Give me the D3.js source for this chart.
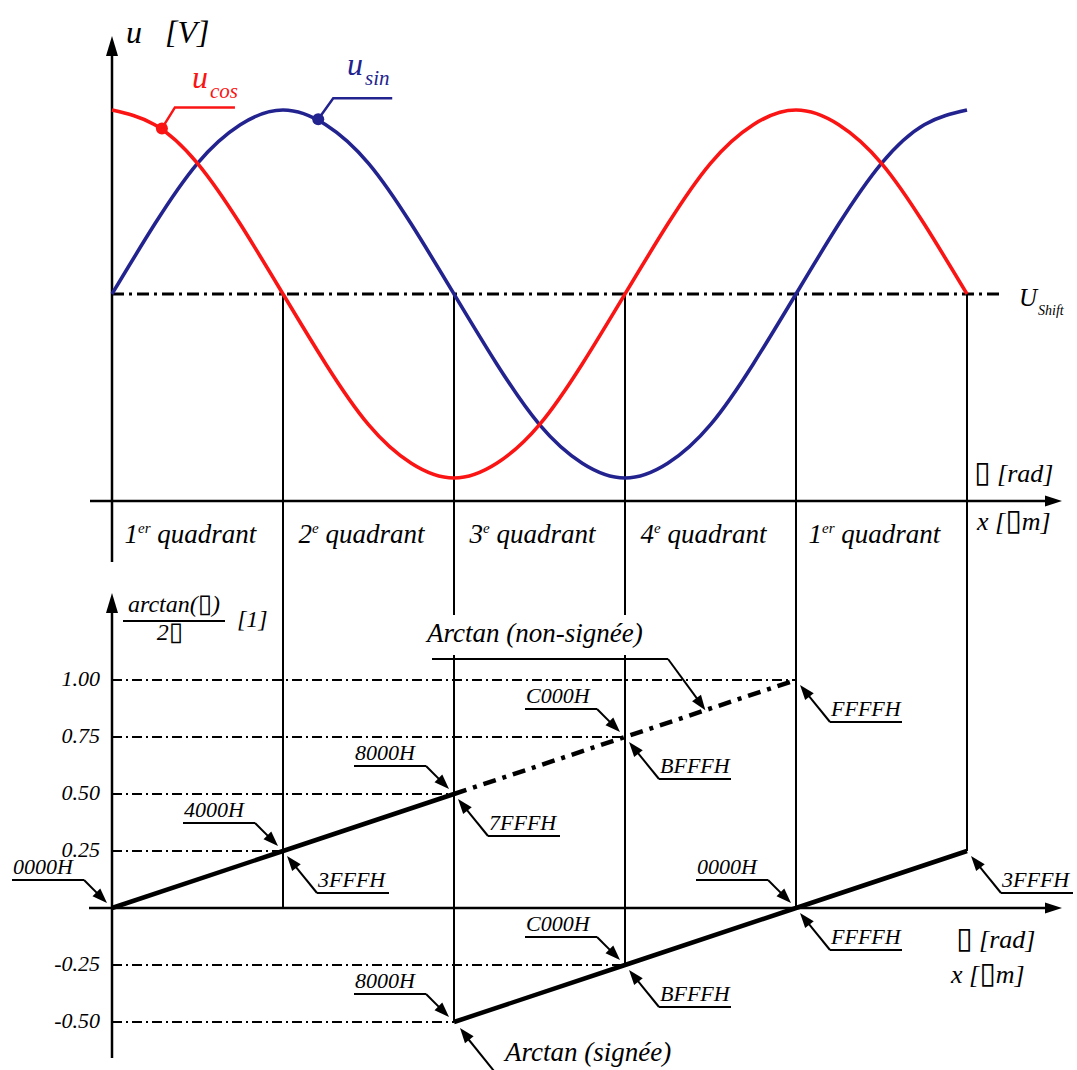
<!DOCTYPE html>
<html><head><meta charset="utf-8">
<script src="https://cdn.jsdelivr.net/npm/d3@7"></script>
<style>
body{margin:0;background:#fff}
svg{display:block}
text{font-family:"Liberation Serif","Times New Roman",serif;font-style:italic;fill:#000}
tspan.box{font-style:normal;font-family:"DejaVu Sans",sans-serif}
</style></head><body>
<svg id="chart" width="1077" height="1070"></svg>
<script>
// ---- data -------------------------------------------------------------
// phase positions are in multiples of π
const phaseSamples = [0, 0.125, 0.25, 0.375, 0.5, 0.625, 0.75, 0.875, 1, 1.125, 1.25,
  1.375, 1.5, 1.625, 1.75, 1.875, 2, 2.125, 2.25, 2.375, 2.5];
const uSin = [0, 0.38, 0.71, 0.92, 1, 0.92, 0.71, 0.38, 0, -0.38, -0.71,
  -0.92, -1, -0.92, -0.71, -0.38, 0, 0.38, 0.71, 0.92, 1];
const uCos = [1, 0.92, 0.71, 0.38, 0, -0.38, -0.71, -0.92, -1, -0.92, -0.71,
  -0.38, 0, 0.38, 0.71, 0.92, 1, 0.92, 0.71, 0.38, 0];

const quadrantBounds = [0, 0.5, 1, 1.5, 2, 2.5];
const quadrantNum = ["1", "2", "3", "4", "1"];
const quadrantSup = ["er", "e", "e", "e", "er"];

// arctan(φ)/2π, unsigned: solid up to π, dash-dot afterwards
const unsignedPhase = [0, 0.5, 1, 1.5, 2];
const unsignedValue = [0, 0.25, 0.5, 0.75, 1];
// signed variant: wraps to -0.5 at π
const signedPhaseB = [1, 1.5, 2, 2.5];
const signedValueB = [-0.5, -0.25, 0, 0.25];

const yTicks = [1.00, 0.75, 0.50, 0.25, -0.25, -0.50];
const gridEndPhase = [2, 1.5, 1, 0.5, 1.5, 1];

const dividerPhase = [0.5, 1, 1.5, 2, 2.5];
const dividerEndValue = [0, -0.5, -0.25, 0, 0.25];

// hex callouts (label above-left of the point)
const nwText = ["0000H", "4000H", "8000H", "C000H", "0000H", "C000H", "8000H"];
const nwPhase = [0, 0.5, 1, 1.5, 2, 1.5, 1];
const nwValue = [0, 0.25, 0.5, 0.75, 0, -0.25, -0.5];
// hex callouts (label below-right of the point)
const seText = ["3FFFH", "7FFFH", "BFFFH", "FFFFH", "3FFFH", "FFFFH", "BFFFH"];
const sePhase = [0.5, 1, 1.5, 2, 2.5, 2, 1.5];
const seValue = [0.25, 0.5, 0.75, 1, 0.25, 0, -0.25];

// markers tying the legend labels to the curves
const cosMarker = [0.146, 0.9];
const sinMarker = [0.603, 0.95];

// ---- scales -----------------------------------------------------------
const svg = d3.select("#chart");
const x = d3.scaleLinear().domain([0, 2.5]).range([112, 967]);
const yTop = d3.scaleLinear().domain([-1, 1]).range([478, 110]);
const yBot = d3.scaleLinear().domain([-0.5, 1]).range([1022, 680]);

const RED = "#fa1414", BLUE = "#23238f";
const BOX = "\u25AF";
const box = size => `<tspan class="box" font-size="${size}">${BOX}</tspan>`;

function arrowHead(g, fx, fy, tx, ty, len, half) {
  const dx = tx - fx, dy = ty - fy, L = Math.hypot(dx, dy);
  const ux = dx / L, uy = dy / L;
  const bx = tx - ux * len, by = ty - uy * len;
  g.append("path")
    .attr("d", `M${tx},${ty}L${bx - uy * half},${by + ux * half}L${bx + uy * half},${by - ux * half}Z`)
    .attr("fill", "#000");
}
function arrowLine(g, fx, fy, tx, ty, w) {
  g.append("line").attr("x1", fx).attr("y1", fy).attr("x2", tx).attr("y2", ty)
    .attr("stroke", "#000").attr("stroke-width", w);
}

const gLines = svg.append("g");

// ---- upper plot -------------------------------------------------------
// zero (U_Shift) line
gLines.append("line")
  .attr("x1", x(0)).attr("x2", 1003).attr("y1", yTop(0)).attr("y2", yTop(0))
  .attr("stroke", "#000").attr("stroke-width", 3).attr("stroke-dasharray", "12,5,3,5");

// quadrant dividers running down into the lower plot
dividerPhase.forEach((p, i) => {
  gLines.append("line")
    .attr("x1", x(p)).attr("x2", x(p))
    .attr("y1", yTop(0)).attr("y2", yBot(dividerEndValue[i]))
    .attr("stroke", "#000").attr("stroke-width", 2);
});

// axes
arrowLine(gLines, x(0), 562, x(0), 50, 2.5);
arrowHead(gLines, x(0), 100, x(0), 36, 20, 6);
arrowLine(gLines, 90, 501, 1050, 501, 2.5);
arrowHead(gLines, 1000, 501, 1062, 501, 17, 5.5);

// curves
const curveLine = vals => d3.line()
  .x((d, i) => x(phaseSamples[i])).y(d => yTop(d))
  .curve(d3.curveNatural)(vals);

svg.append("path").attr("d", curveLine(uSin))
  .attr("fill", "none").attr("stroke", BLUE).attr("stroke-width", 3.6);
svg.append("path").attr("d", curveLine(uCos))
  .attr("fill", "none").attr("stroke", RED).attr("stroke-width", 3.6);

// legend leaders
function legend(marker, color, elbowDx, elbowDy, lineLen, labelX, labelY, sub) {
  const mx = x(marker[0]), my = yTop(marker[1]);
  svg.append("circle").attr("cx", mx).attr("cy", my).attr("r", 6).attr("fill", color);
  svg.append("polyline")
    .attr("points", `${mx},${my} ${mx + elbowDx},${my + elbowDy} ${mx + elbowDx + lineLen},${my + elbowDy}`)
    .attr("fill", "none").attr("stroke", color).attr("stroke-width", 2.5);
  const t = svg.append("text").attr("x", labelX).attr("y", labelY)
    .style("fill", color).attr("font-size", 32);
  t.append("tspan").text("u");
  t.append("tspan").attr("font-size", 21).attr("dy", 10).attr("dx", 2).text(sub);
}
legend(cosMarker, RED, 13, -21, 60, 192, 88, "cos");
legend(sinMarker, BLUE, 15, -21, 59, 347, 75, "sin");

// labels of upper plot
svg.append("text").attr("x", 126).attr("y", 43).attr("font-size", 32).text("u");
svg.append("text").attr("x", 165).attr("y", 43).attr("font-size", 32).text("[V]");

const us = svg.append("text").attr("x", 1019).attr("y", 306).attr("font-size", 25);
us.append("tspan").text("U");
us.append("tspan").attr("font-size", 14).attr("dy", 9).attr("dx", 1).text("Shift");

svg.append("text").attr("x", 974).attr("y", 482).attr("font-size", 26)
  .html(`${box(30)} [rad]`);
svg.append("text").attr("x", 977).attr("y", 530).attr("font-size", 26)
  .html(`x [${box(30)}m]`);

// quadrant names
quadrantNum.forEach((n, i) => {
  const cx = (x(quadrantBounds[i]) + x(quadrantBounds[i + 1])) / 2 - 7;
  const t = svg.append("text").attr("x", cx).attr("y", 543)
    .attr("text-anchor", "middle").attr("font-size", 27);
  t.append("tspan").text(n);
  t.append("tspan").attr("font-size", 15).attr("dy", -10).text(quadrantSup[i]);
  t.append("tspan").attr("dy", 10).text(" quadrant");
});

// ---- lower plot -------------------------------------------------------
// dash-dot reference levels
yTicks.forEach((v, i) => {
  gLines.append("line")
    .attr("x1", x(0)).attr("x2", x(gridEndPhase[i]))
    .attr("y1", yBot(v)).attr("y2", yBot(v))
    .attr("stroke", "#000").attr("stroke-width", 1.8).attr("stroke-dasharray", "10,4,2,4");
});

// tick labels via axis generator (plain hyphen for negatives)
const fmt = d3.format(".2f");
const yAxis = d3.axisLeft(yBot).tickValues(yTicks).tickSize(0).tickPadding(12)
  .tickFormat(d => fmt(d).replace("\u2212", "-"));
const ga = svg.append("g").attr("transform", `translate(${x(0)},0)`).call(yAxis);
ga.select(".domain").remove();
ga.selectAll("text").attr("font-size", 22).attr("dy", "0.25em")
  .style("font-family", '"Liberation Serif",serif').style("font-style", "italic");

// axes
arrowLine(svg, x(0), 1058, x(0), 605, 2.5);
arrowHead(svg, x(0), 650, x(0), 593, 20, 6);
arrowLine(svg, 89, yBot(0), 1050, yBot(0), 2.5);
arrowHead(svg, 1000, yBot(0), 1062, yBot(0), 17, 5.5);

// white backdrop + caption for the unsigned variant
svg.append("rect").attr("x", 424).attr("y", 615).attr("width", 228).attr("height", 40).attr("fill", "#fff");
svg.append("text").attr("x", 427).attr("y", 642).attr("font-size", 27).text("Arctan (non-signée)");

// arctan lines
const lineB = d3.line().x(d => x(d[0])).y(d => yBot(d[1]));
const pairs = (ps, vs) => ps.map((p, i) => [p, vs[i]]);
const uns = pairs(unsignedPhase, unsignedValue);
svg.append("path").attr("d", lineB(uns.filter(d => d[0] <= 1)))
  .attr("fill", "none").attr("stroke", "#000").attr("stroke-width", 4.5);
svg.append("path").attr("d", lineB(uns.filter(d => d[0] >= 1)))
  .attr("fill", "none").attr("stroke", "#000").attr("stroke-width", 4.5)
  .attr("stroke-dasharray", "13,7,4,7");
svg.append("path").attr("d", lineB(pairs(signedPhaseB, signedValueB)))
  .attr("fill", "none").attr("stroke", "#000").attr("stroke-width", 4.5);

// callouts
const gc = svg.append("g");
function callout(text, px, py, dir) {
  let tx, ty, ex, ey, u1, u2;
  if (dir === "nw") {
    tx = px - 5; ty = py - 5; ex = tx - 23; ey = ty - 23; u1 = ex - 72; u2 = ex;
  } else {
    tx = px + 4; ty = py + 5; ex = tx + 30; ey = ty + 37; u1 = ex; u2 = ex + 72;
  }
  gc.append("line").attr("x1", u1).attr("x2", u2).attr("y1", ey).attr("y2", ey)
    .attr("stroke", "#000").attr("stroke-width", 2);
  arrowLine(gc, ex, ey, tx - (tx - ex) * 0.3, ty - (ty - ey) * 0.3, 2);
  arrowHead(gc, ex, ey, tx, ty, 15, 5.5);
  gc.append("text").attr("x", u1 + 1).attr("y", ey - 6).attr("font-size", 22).text(text);
}
nwText.forEach((t, i) => callout(t, x(nwPhase[i]), yBot(nwValue[i]), "nw"));
seText.forEach((t, i) => callout(t, x(sePhase[i]), yBot(seValue[i]), "se"));

// caption leader for unsigned line
{
  const tip = [x(1.735), yBot(0.8675)];
  gc.append("line").attr("x1", 432).attr("x2", 668).attr("y1", 659).attr("y2", 659)
    .attr("stroke", "#000").attr("stroke-width", 2);
  arrowLine(gc, 668, 659, tip[0] - 5, tip[1] - 7, 2);
  arrowHead(gc, 668, 659, tip[0], tip[1], 15, 5.5);
}
// caption for signed line
{
  const tx = x(1) + 6, ty = yBot(-0.5) + 6;
  arrowLine(gc, 498, 1076, tx + 5, ty + 7, 2);
  arrowHead(gc, 498, 1076, tx, ty, 15, 5.5);
  gc.append("line").attr("x1", 498).attr("x2", 690).attr("y1", 1076).attr("y2", 1076)
    .attr("stroke", "#000").attr("stroke-width", 2);
  gc.append("text").attr("x", 505).attr("y", 1061).attr("font-size", 27).text("Arctan (signée)");
}

// y-axis title of lower plot
svg.append("text").attr("x", 174).attr("y", 612).attr("text-anchor", "middle").attr("font-size", 24)
  .html(`arctan(${box(26)})`);
svg.append("line").attr("x1", 123).attr("x2", 225).attr("y1", 621).attr("y2", 621)
  .attr("stroke", "#000").attr("stroke-width", 2);
svg.append("text").attr("x", 170).attr("y", 640).attr("text-anchor", "middle").attr("font-size", 24)
  .html(`2${box(26)}`);
svg.append("text").attr("x", 237).attr("y", 627).attr("font-size", 24).text("[1]");

// x-axis labels of lower plot
svg.append("text").attr("x", 956).attr("y", 948).attr("font-size", 26)
  .html(`${box(30)} [rad]`);
svg.append("text").attr("x", 951).attr("y", 983).attr("font-size", 26)
  .html(`x  [${box(30)}m]`);
</script>
</body></html>
